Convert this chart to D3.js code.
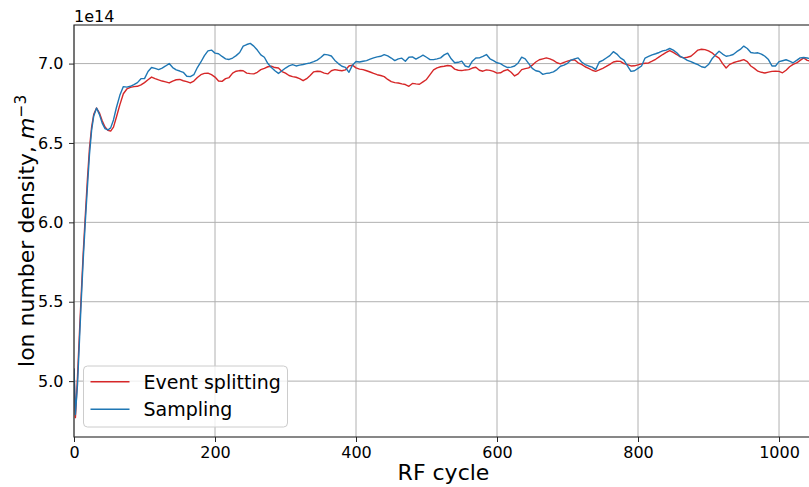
<!DOCTYPE html>
<html>
<head>
<meta charset="utf-8">
<script src="https://cdn.jsdelivr.net/npm/d3@7"></script>
<style>
  html, body { margin: 0; padding: 0; background: #fff; }
  svg { display: block; font-family: "DejaVu Sans", sans-serif; }
</style>
</head>
<body>
<div id="chart"></div>
<script>
// RF cycle sample positions (shared by both series)
const cycles = [
  0, 2, 5, 8, 10, 13, 16, 19, 22, 25,
  28, 32, 36, 40, 44, 48, 52, 56, 60, 65,
  70, 75, 80, 85, 90, 95, 100, 105, 110, 115,
  120, 125, 130, 135, 140, 145, 150, 155, 160, 165,
  170, 175, 180, 185, 190, 195, 200, 205, 210, 215,
  220, 225, 230, 235, 240, 245, 250, 255, 260, 265,
  270, 275, 280, 285, 290, 295, 300, 305, 310, 315,
  320, 325, 330, 335, 340, 345, 350, 355, 360, 365,
  370, 375, 380, 385, 390, 395, 400, 405, 410, 415,
  420, 425, 430, 435, 440, 445, 450, 455, 460, 465,
  470, 475, 480, 485, 490, 495, 500, 505, 510, 515,
  520, 525, 530, 535, 540, 545, 550, 555, 560, 565,
  570, 575, 580, 585, 590, 595, 600, 605, 610, 615,
  620, 625, 630, 635, 640, 645, 650, 655, 660, 665,
  670, 675, 680, 685, 690, 695, 700, 705, 710, 715,
  720, 725, 730, 735, 740, 745, 750, 755, 760, 765,
  770, 775, 780, 785, 790, 795, 800, 805, 810, 815,
  820, 825, 830, 835, 840, 845, 850, 855, 860, 865,
  870, 875, 880, 885, 890, 895, 900, 905, 910, 915,
  920, 925, 930, 935, 940, 945, 950, 955, 960, 965,
  970, 975, 980, 985, 990, 995, 1000, 1005, 1010, 1015,
  1020, 1025, 1030, 1035, 1040, 1048
];

// ion number density, units of 1e14 m^-3
const eventSplitting = [
  5.08, 4.77, 5.03, 5.33, 5.52, 5.80, 6.04, 6.27, 6.47, 6.60,
  6.68, 6.72, 6.69, 6.64, 6.60, 6.58, 6.575, 6.60, 6.66, 6.74,
  6.81, 6.84, 6.85, 6.855, 6.857, 6.866, 6.88, 6.898, 6.915, 6.905,
  6.897, 6.89, 6.885, 6.878, 6.89, 6.898, 6.9, 6.892, 6.886, 6.878,
  6.89, 6.912, 6.93, 6.938, 6.94, 6.93, 6.915, 6.89, 6.888, 6.905,
  6.912, 6.94, 6.952, 6.956, 6.955, 6.94, 6.937, 6.935, 6.945, 6.962,
  6.97, 6.98, 6.983, 6.975, 6.972, 6.95, 6.94, 6.925, 6.918, 6.914,
  6.905, 6.892, 6.905, 6.925, 6.948, 6.952, 6.95, 6.94, 6.935, 6.955,
  6.962, 6.958, 6.955, 6.96, 6.985, 6.99, 6.973, 6.965, 6.962, 6.955,
  6.947, 6.938, 6.93, 6.925, 6.918, 6.9, 6.886, 6.88, 6.878, 6.872,
  6.868, 6.857, 6.875, 6.872, 6.87, 6.885, 6.9, 6.93, 6.96, 6.973,
  6.98, 6.983, 6.988, 6.985, 6.965, 6.958, 6.956, 6.96, 6.962, 6.972,
  6.977, 6.958, 6.952, 6.96, 6.957, 6.951, 6.94, 6.942, 6.955, 6.962,
  6.945, 6.922, 6.935, 6.962, 6.968, 6.973, 6.99, 7.01, 7.024, 7.03,
  7.036, 7.03, 7.02, 7.005, 6.998, 7.008, 7.015, 7.022, 7.024, 7.005,
  6.995, 6.98, 6.97, 6.958, 6.951, 6.96, 6.97, 6.982, 6.995, 7.01,
  7.015, 7.014, 7.0, 6.993, 6.985, 6.986, 6.992, 6.998, 7.002, 7.004,
  7.015, 7.027, 7.042, 7.057, 7.07, 7.082, 7.07, 7.057, 7.042, 7.036,
  7.04, 7.046, 7.065, 7.085, 7.09, 7.088, 7.08, 7.068, 7.048, 7.034,
  7.0, 6.972, 6.995, 7.005, 7.012, 7.018, 7.025, 7.012, 6.985, 6.97,
  6.952, 6.945, 6.941, 6.946, 6.951, 6.952, 6.951, 6.942, 6.958, 6.98,
  6.995, 7.004, 7.02, 7.036, 7.02, 7.012
];

const sampling = [
  5.08, 4.79, 4.98, 5.28, 5.48, 5.76, 6.0, 6.22, 6.43, 6.58,
  6.67, 6.72, 6.68, 6.625, 6.59, 6.582, 6.595, 6.645, 6.72, 6.80,
  6.855, 6.852, 6.857, 6.868, 6.88, 6.905, 6.905, 6.95, 6.975, 6.97,
  6.962, 6.972, 6.985, 7.0, 6.975, 6.96, 6.953, 6.945, 6.92, 6.918,
  6.93, 6.975, 7.01, 7.05, 7.08, 7.085, 7.066, 7.062, 7.045, 7.03,
  7.026, 7.035, 7.05, 7.07, 7.11, 7.12, 7.127, 7.11, 7.085, 7.055,
  7.04, 7.0, 6.975, 6.955, 6.938, 6.955, 6.972, 6.985, 6.993, 6.985,
  6.99, 6.994, 7.0, 7.004, 7.012, 7.022, 7.038, 7.058, 7.055, 7.048,
  7.02, 7.0, 6.983, 6.976, 6.945, 6.99, 7.013, 7.01, 7.015, 7.019,
  7.028, 7.036, 7.042, 7.046, 7.056, 7.048, 7.035, 7.019, 7.03, 7.034,
  7.015, 7.04, 7.042, 7.028, 7.04, 7.053, 7.04, 7.025, 7.025, 7.03,
  7.036, 7.055, 7.066, 7.03, 7.005, 7.008, 7.015, 6.985, 6.978, 7.015,
  7.035, 7.036, 7.045, 7.057, 7.03, 7.018, 7.005, 7.0, 6.985, 6.975,
  6.978, 6.985, 7.004, 7.04, 7.03, 7.0, 6.97, 6.955, 6.95, 6.932,
  6.938, 6.941, 6.948, 6.962, 6.983, 6.99, 7.002, 7.022, 7.03, 7.036,
  7.01, 6.994, 6.985, 6.978, 6.962, 7.01, 7.02, 7.035, 7.05, 7.075,
  7.06, 7.036, 7.022, 6.985, 6.951, 6.955, 6.97, 6.985, 7.035, 7.045,
  7.055, 7.062, 7.07, 7.08, 7.085, 7.095, 7.085, 7.068, 7.045, 7.034,
  7.02, 7.012, 7.002, 6.993, 6.98, 6.975, 6.994, 7.03, 7.055, 7.078,
  7.06, 7.046, 7.05, 7.057, 7.075, 7.089, 7.11, 7.095, 7.07, 7.066,
  7.068, 7.06, 7.046, 7.025, 6.985, 6.985, 7.012, 7.018, 7.024, 7.015,
  7.005, 7.02, 7.036, 7.038, 7.035, 7.028
];

const xTicks = [0, 200, 400, 600, 800, 1000];
const yTicks = [5.0, 5.5, 6.0, 6.5, 7.0];

const seriesNames = ["Event splitting", "Sampling"];
const seriesColors = ["#d62728", "#1f77b4"];

const CHART_CONFIG = {
  width: 809,
  height: 487,
  margin: { top: 25, right: -4, bottom: 50, left: 74 },
  xDomain: [0, 1048.2],
  yDomain: [4.648, 7.243],
  tickFontSize: 16,
  labelFontSize: 22,
  legendFontSize: 19,
  gridColor: "#b0b0b0",
  spineColor: "#262626",
};

const { width, height, margin } = CHART_CONFIG;
const innerWidth = width - margin.left - margin.right;
const innerHeight = height - margin.top - margin.bottom;

const svg = d3
  .select("#chart")
  .append("svg")
  .attr("width", width)
  .attr("height", height);

const group = svg.append("g").attr("transform", `translate(${margin.left},${margin.top})`);

const x = d3.scaleLinear().domain(CHART_CONFIG.xDomain).range([0, innerWidth]);
const y = d3.scaleLinear().domain(CHART_CONFIG.yDomain).range([innerHeight, 0]);

group.append("clipPath").attr("id", "plot-clip")
  .append("rect").attr("width", innerWidth).attr("height", innerHeight);

// grid
group.append("g")
  .selectAll("line")
  .data(xTicks)
  .join("line")
  .attr("x1", (d) => x(d)).attr("x2", (d) => x(d))
  .attr("y1", 0).attr("y2", innerHeight)
  .attr("stroke", CHART_CONFIG.gridColor).attr("stroke-width", 1);

group.append("g")
  .selectAll("line")
  .data(yTicks)
  .join("line")
  .attr("x1", 0).attr("x2", innerWidth)
  .attr("y1", (d) => y(d)).attr("y2", (d) => y(d))
  .attr("stroke", CHART_CONFIG.gridColor).attr("stroke-width", 1);

// lines
const line = d3.line()
  .x((d) => x(d[0]))
  .y((d) => y(d[1]));

[eventSplitting, sampling].forEach((values, i) => {
  group.append("path")
    .datum(cycles.map((c, j) => [c, values[j]]))
    .attr("clip-path", "url(#plot-clip)")
    .attr("fill", "none")
    .attr("stroke", seriesColors[i])
    .attr("stroke-width", 1.4)
    .attr("stroke-linejoin", "round")
    .attr("d", line);
});

// axes
const styleAxis = (selection) => {
  selection.select(".domain").remove();
  selection.selectAll(".tick line").attr("stroke", CHART_CONFIG.spineColor).attr("stroke-width", 1);
  selection.selectAll("text")
    .attr("font-size", CHART_CONFIG.tickFontSize)
    .attr("font-family", "DejaVu Sans")
    .attr("fill", "#000");
};

group.append("g")
  .attr("transform", `translate(0,${innerHeight})`)
  .call(d3.axisBottom(x).tickValues(xTicks).tickFormat(d3.format("d")).tickSize(5).tickPadding(5))
  .call(styleAxis);

group.append("g")
  .call(d3.axisLeft(y).tickValues(yTicks).tickFormat(d3.format(".1f")).tickSize(5).tickPadding(5.5))
  .call(styleAxis);

// spines
group.append("rect")
  .attr("x", 0).attr("y", 0)
  .attr("width", innerWidth).attr("height", innerHeight)
  .attr("fill", "none")
  .attr("stroke", CHART_CONFIG.spineColor)
  .attr("stroke-width", 1.1);

// offset text
group.append("text")
  .attr("x", 0).attr("y", -3)
  .attr("font-size", CHART_CONFIG.tickFontSize)
  .text("1e14");

// axis labels
svg.append("text")
  .attr("x", margin.left + innerWidth / 2)
  .attr("y", 480)
  .attr("text-anchor", "middle")
  .attr("font-size", CHART_CONFIG.labelFontSize)
  .text("RF cycle");

const yLabel = svg.append("text")
  .attr("transform", `translate(34,${margin.top + innerHeight / 2}) rotate(-90)`)
  .attr("text-anchor", "middle")
  .attr("font-size", CHART_CONFIG.labelFontSize);
yLabel.append("tspan").text("Ion number density,\u00a0");
yLabel.append("tspan").attr("font-style", "italic").text("m");
yLabel.append("tspan").attr("font-size", 15.5).attr("dy", -8).text("\u22123");

// legend
const legend = svg.append("g").attr("transform", "translate(83.5,366)");
legend.append("rect")
  .attr("width", 204).attr("height", 61)
  .attr("rx", 4)
  .attr("fill", "#fff").attr("fill-opacity", 0.8)
  .attr("stroke", "#cccccc").attr("stroke-width", 1);

const legendItem = legend.selectAll(".item")
  .data(seriesNames)
  .join("g")
  .attr("class", "item")
  .attr("transform", (d, i) => `translate(0,${15.7 + i * 27.6})`);

legendItem.append("line")
  .attr("x1", 7).attr("x2", 46)
  .attr("stroke", (d, i) => seriesColors[i])
  .attr("stroke-width", 1.4);

legendItem.append("text")
  .attr("x", 60).attr("dy", "0.36em")
  .attr("font-size", CHART_CONFIG.legendFontSize)
  .text((d) => d);
</script>
</body>
</html>
